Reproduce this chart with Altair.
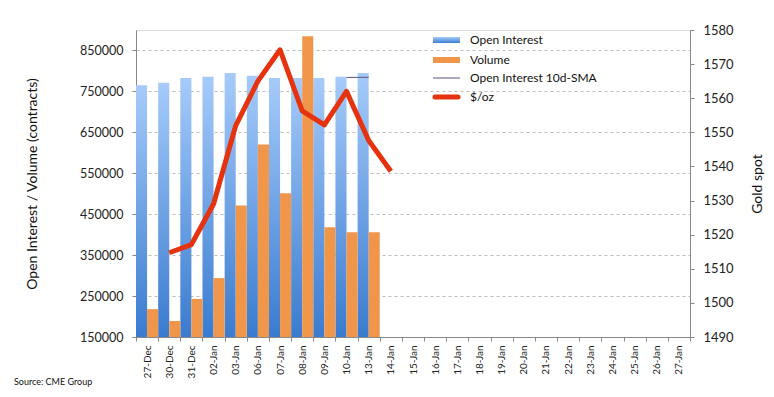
import altair as alt
import pandas as pd

dates = ["27-Dec", "30-Dec", "31-Dec", "02-Jan", "03-Jan", "06-Jan", "07-Jan", "08-Jan",
         "09-Jan", "10-Jan", "13-Jan", "14-Jan", "15-Jan", "16-Jan", "17-Jan", "18-Jan",
         "19-Jan", "20-Jan", "21-Jan", "22-Jan", "23-Jan", "24-Jan", "25-Jan", "26-Jan", "27-Jan"]
bar_dates = dates[:11]
open_interest = [765000, 771000, 783000, 786000, 795000, 788000, 783000, 783000, 783000, 786000, 795000]
volume = [218000, 189000, 243000, 294000, 471000, 620000, 501000, 885000, 418000, 406000, 406000]
gold_dates = dates[1:12]
gold = [1514.7, 1517.1, 1529.0, 1552.0, 1565.0, 1574.2, 1556.3, 1552.2, 1562.0, 1547.6, 1538.6]
sma_dates = ["10-Jan", "13-Jan"]
sma = [784000, 784500]
left_ticks = [150000, 250000, 350000, 450000, 550000, 650000, 750000, 850000]
right_ticks = [1490, 1500, 1510, 1520, 1530, 1540, 1550, 1560, 1570, 1580]
legend_labels = ["Open Interest", "Volume", "Open Interest 10d-SMA", "$/oz"]
source_text = "Source: CME Group"

FONT = "Lato"
W, H = 554, 307
BLUE = alt.Gradient(gradient="linear",
                    stops=[alt.GradientStop(color="#A6CBFA", offset=0),
                           alt.GradientStop(color="#3A7BCF", offset=1)],
                    x1=0, x2=0, y1=0, y2=1)
ORANGE = "#F0964A"
RED = "#E6330F"
SMA_C = "#55557F"

oi_df = pd.DataFrame({"date": bar_dates, "value": open_interest, "series": "Open Interest"})
vol_df = pd.DataFrame({"date": bar_dates, "value": volume, "series": "Volume"})
gold_df = pd.DataFrame({"date": gold_dates, "gold": gold})
sma_df = pd.DataFrame({"date": sma_dates, "value": sma})

x_axis = alt.Axis(labelAngle=270, tickBand="extent", labelFontSize=10, labelPadding=4,
                  tickSize=4, title=None, domainColor="#888", tickColor="#888",
                  labelColor="#222", labelFont=FONT)
x_enc = alt.X("date:N", sort=dates,
              scale=alt.Scale(domain=dates, paddingInner=0, paddingOuter=0),
              axis=x_axis)
xo_enc = alt.XOffset("series:N", scale=alt.Scale(domain=["Open Interest", "Volume"],
                                                 paddingInner=0, paddingOuter=0))
left_scale = alt.Scale(domain=[150000, 900000], nice=False, zero=False)

left_axis = alt.Axis(values=left_ticks, format="d", title="Open Interest / Volume (contracts)",
                     grid=True, gridDash=[3, 3], gridColor="#bdbdbd", domainColor="#888",
                     tickColor="#888", tickSize=4, labelFontSize=12.5, labelColor="#222",
                     labelPadding=9, titleFontSize=14, titleFontWeight="normal",
                     titleX=-104, titleY=H / 2, titleAngle=270, titleAlign="center",
                     titleBaseline="middle", labelFont=FONT, titleFont=FONT,
                     titleColor="#111")

oi_bars = alt.Chart(oi_df).mark_bar(color=BLUE).encode(
    x=x_enc, xOffset=xo_enc,
    y=alt.Y("value:Q", scale=left_scale, axis=left_axis),
    y2=alt.datum(150000),
)
vol_bars = alt.Chart(vol_df).mark_bar(color=ORANGE).encode(
    x=x_enc, xOffset=xo_enc,
    y=alt.Y("value:Q", scale=left_scale, axis=None),
    y2=alt.datum(150000),
)
sma_line = alt.Chart(sma_df).mark_line(color=SMA_C, strokeWidth=1).encode(
    x=x_enc,
    y=alt.Y("value:Q", scale=left_scale, axis=None),
)
right_axis = alt.Axis(orient="right", values=right_ticks, format="d", title="Gold spot",
                      grid=False, domainColor="#888", tickColor="#888", tickSize=4,
                      labelFontSize=13, labelColor="#222", labelPadding=9, titleFontSize=14,
                      titleFontWeight="normal", titleX=67, titleY=H / 2, titleAngle=270,
                      titleAlign="center", titleBaseline="middle", labelFont=FONT,
                      titleFont=FONT, titleColor="#111")
gold_line = alt.Chart(gold_df).mark_line(color=RED, strokeWidth=5, strokeJoin="round").encode(
    x=x_enc,
    y=alt.Y("gold:Q", scale=alt.Scale(domain=[1490, 1580], nice=False, zero=False),
            axis=right_axis),
)

one = alt.Data(values=[{}])
lx0, lx1, ltx = 297, 324, 334
rows = [10, 30, 48, 67]
legend_layers = [
    alt.Chart(one).mark_rect(color=BLUE).encode(
        x=alt.value(lx0), x2=alt.value(lx1), y=alt.value(rows[0] - 3), y2=alt.value(rows[0] + 3)),
    alt.Chart(one).mark_rect(color=ORANGE).encode(
        x=alt.value(lx0), x2=alt.value(lx1), y=alt.value(rows[1] - 3), y2=alt.value(rows[1] + 3)),
    alt.Chart(one).mark_rule(color=SMA_C, strokeWidth=1).encode(
        x=alt.value(lx0), x2=alt.value(lx1), y=alt.value(rows[2])),
    alt.Chart(one).mark_rule(color=RED, strokeWidth=5, strokeCap="round").encode(
        x=alt.value(lx0 + 2), x2=alt.value(lx1 - 2), y=alt.value(rows[3])),
]
for lab, ry in zip(legend_labels, rows):
    legend_layers.append(
        alt.Chart(one).mark_text(text=lab, align="left", baseline="middle", fontSize=12,
                                 font=FONT, color="#111").encode(
            x=alt.value(ltx), y=alt.value(ry)))

source = alt.Chart(one).mark_text(text=source_text, align="left", baseline="middle",
                                  fontSize=9, font=FONT, color="#111").encode(
    x=alt.value(-122), y=alt.value(352))

chart = alt.layer(oi_bars, vol_bars, sma_line, gold_line, *legend_layers, source).resolve_scale(
    y="independent"
).properties(
    width=W, height=H,
    autosize=alt.AutoSizeParams(type="none"),
    padding={"left": 128, "top": 22, "right": 76, "bottom": 52},
).configure_view(stroke=None).configure(background="white")

chart.save("out.html", embed_options={"renderer": "svg", "actions": False})
